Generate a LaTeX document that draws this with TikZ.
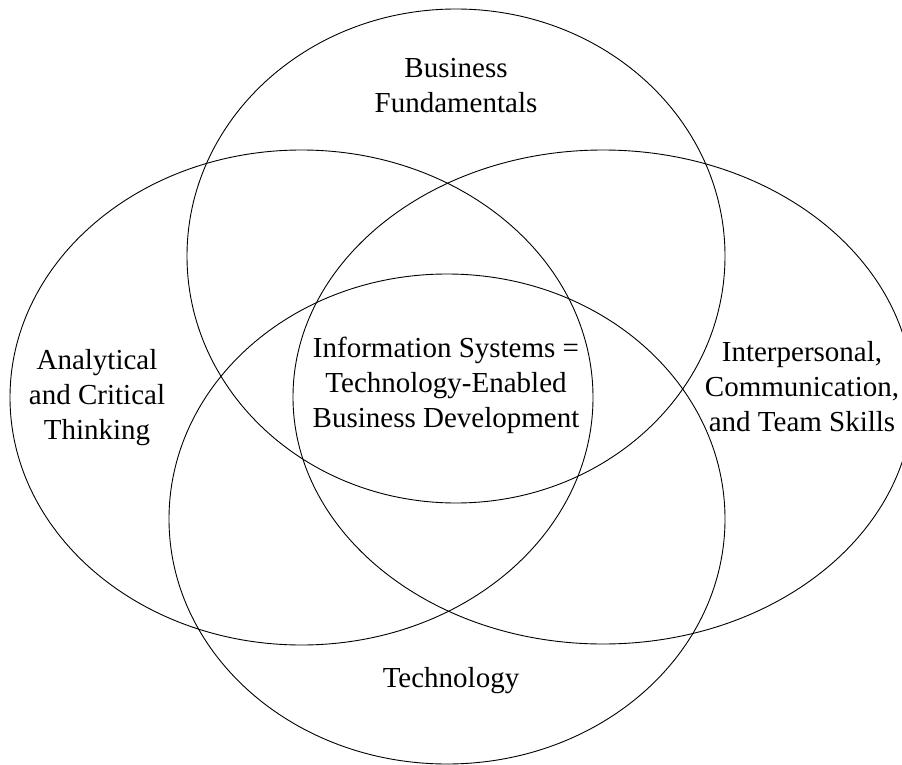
\documentclass[tikz,border=0pt]{standalone}
\usepackage{fontspec}
\setmainfont{Liberation Serif}
\begin{document}
\begin{tikzpicture}[x=1pt,y=-1pt,
  ring/.style={draw=black,line width=0.9pt},
  label/.style={inner sep=0pt,align=center,font=\fontsize{29}{35}\selectfont}]
\useasboundingbox (0,0) rectangle (902,765);
\clip (0,0) rectangle (902,765);
\fill[white] (0,0) rectangle (902,765);
% four overlapping ellipses
\draw[ring] (456,256) ellipse [x radius=269, y radius=247];
\draw[ring] (447,519) ellipse [x radius=278, y radius=245];
\draw[ring] (301.5,397.5) ellipse [x radius=291.5, y radius=247.5];
\draw[ring] (603,397) ellipse [x radius=310, y radius=247];
% labels
\node[label] (bus) at (456,88.5) {\strut Business\\\strut Fundamentals};
\node[label] (ana) at (97,397) {\strut Analytical\\\strut and Critical\\\strut Thinking};
\node[label] (int) at (802,389) {\strut Interpersonal,\\\strut Communication,\\\strut and Team Skills};
\node[label] (is) at (446,385) {\strut Information Systems =\\\strut Technology-Enabled\\\strut Business Development};
\node[label] (tec) at (451,680) {\strut Technology};
\end{tikzpicture}
\end{document}
